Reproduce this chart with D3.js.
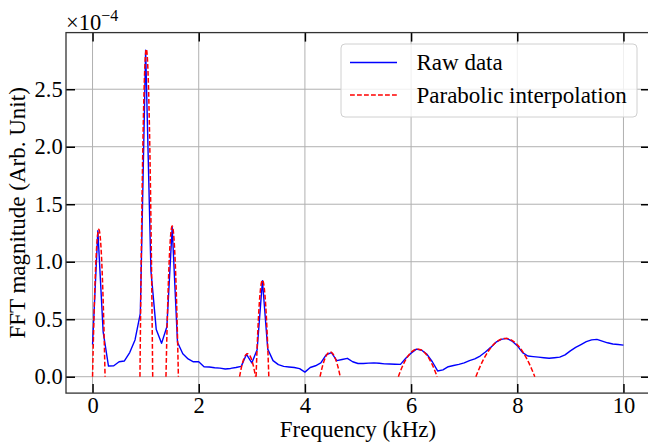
<!DOCTYPE html>
<html>
<head>
<meta charset="utf-8">
<script src="https://cdn.jsdelivr.net/npm/d3@7"></script>
<style>
  body { margin: 0; background: #fff; }
  svg { font-family: "Liberation Serif", "DejaVu Serif", serif; }
</style>
</head>
<body>
<script>
// raw FFT magnitude (x 1e-4), one value per 0.1 kHz bin from 0 to 10 kHz
var rawMag = [
  0.28, 1.27, 0.39, 0.093, 0.095, 0.13, 0.137, 0.21, 0.32, 0.55,
  2.84, 0.92, 0.41, 0.29, 0.435, 1.30, 0.30, 0.20, 0.155, 0.13,
  0.13, 0.087, 0.085, 0.078, 0.075, 0.067, 0.072, 0.08, 0.09, 0.195,
  0.12, 0.235, 0.835, 0.24, 0.14, 0.105, 0.09, 0.085, 0.08, 0.07,
  0.04, 0.08, 0.095, 0.12, 0.19, 0.21, 0.14, 0.15, 0.16, 0.13,
  0.115, 0.115, 0.118, 0.12, 0.117, 0.112, 0.11, 0.108, 0.107, 0.16,
  0.205, 0.24, 0.23, 0.195, 0.13, 0.05, 0.06, 0.087, 0.097, 0.107,
  0.12, 0.14, 0.155, 0.18, 0.215, 0.255, 0.30, 0.325, 0.333, 0.31,
  0.27, 0.21, 0.18, 0.175, 0.17, 0.165, 0.16, 0.165, 0.17, 0.19,
  0.225, 0.255, 0.28, 0.305, 0.32, 0.325, 0.31, 0.295, 0.285, 0.28,
  0.275
];
var rawFreq = d3.range(rawMag.length).map(function(i) { return i / 10; });

// fitted parabolas: vertex frequency (kHz), vertex height (x 1e-4), half width to the roots (kHz)
var peakFreq = [0.118, 1.013, 1.50, 2.92, 3.20, 4.475, 6.125, 7.775];
var peakMag = [1.28, 2.85, 1.31, 0.20, 0.84, 0.215, 0.24, 0.333];
var peakHalfWidth = [0.118, 0.12, 0.117, 0.15, 0.12, 0.19, 0.365, 0.555];

var xTicks = [0, 2, 4, 6, 8, 10];
var yTicks = [0, 0.5, 1.0, 1.5, 2.0, 2.5];

var width = 648;
var height = 442;
var plotLeft = 66, plotRight = 650, plotTop = 32.6, plotBottom = 393.1;
var tickFont = '22.5px';
var labelFont = '23px';

var x = d3.scaleLinear().domain([-0.5, 10.5]).range([plotLeft, plotRight]);
var y = d3.scaleLinear().domain([-0.1425, 2.9925]).range([plotBottom, plotTop]);

var svg = d3.select('body').append('svg')
    .attr('width', width)
    .attr('height', height);

// grid
svg.append('g').selectAll('line').data(xTicks).enter().append('line')
    .attr('x1', function(d) { return x(d); }).attr('x2', function(d) { return x(d); })
    .attr('y1', plotTop).attr('y2', plotBottom)
    .attr('stroke', '#b0b0b0').attr('stroke-width', 1);
svg.append('g').selectAll('line').data(yTicks).enter().append('line')
    .attr('y1', function(d) { return y(d); }).attr('y2', function(d) { return y(d); })
    .attr('x1', plotLeft).attr('x2', plotRight)
    .attr('stroke', '#b0b0b0').attr('stroke-width', 1);

// raw data
var line = d3.line()
    .x(function(d) { return x(d[0]); })
    .y(function(d) { return y(d[1]); });

svg.append('path')
    .datum(d3.zip(rawFreq, rawMag))
    .attr('d', line)
    .attr('fill', 'none')
    .attr('stroke', '#0000ff')
    .attr('stroke-width', 1.4)
    .attr('stroke-linejoin', 'round');

// parabolic interpolation
peakFreq.forEach(function(c, i) {
    var w = peakHalfWidth[i], h = peakMag[i];
    var pts = d3.range(0, 41).map(function(j) {
        var f = c - w + (2 * w) * j / 40;
        var u = (f - c) / w;
        return [f, Math.max(0, h * (1 - u * u))];
    });
    svg.append('path')
        .datum(pts)
        .attr('d', line)
        .attr('fill', 'none')
        .attr('stroke', '#ff0000')
        .attr('stroke-width', 1.5)
        .attr('stroke-dasharray', '4.8,2.2');
});

// axes, ticks pointing inward
function styleAxis(g) {
    g.select('.domain').remove();
    g.selectAll('.tick line').attr('stroke', '#000').attr('stroke-width', 1.5);
    g.selectAll('.tick text').attr('fill', '#000').style('font-size', tickFont)
        .style('font-family', '"Liberation Serif", serif');
}

svg.append('g')
    .attr('transform', 'translate(0,' + plotBottom + ')')
    .call(d3.axisBottom(x).tickValues(xTicks).tickFormat(d3.format('d')).tickSize(-9).tickPadding(4))
    .call(styleAxis);
svg.append('g')
    .attr('transform', 'translate(0,' + plotTop + ')')
    .call(d3.axisTop(x).tickValues(xTicks).tickFormat('').tickSize(-9))
    .call(styleAxis);
svg.append('g')
    .attr('transform', 'translate(' + plotLeft + ',0)')
    .call(d3.axisLeft(y).tickValues(yTicks).tickFormat(d3.format('.1f')).tickSize(-9).tickPadding(3.3))
    .call(styleAxis);
svg.append('g')
    .attr('transform', 'translate(' + plotRight + ',0)')
    .call(d3.axisRight(y).tickValues(yTicks).tickFormat('').tickSize(-9))
    .call(styleAxis);

// spines
svg.append('rect')
    .attr('x', plotLeft).attr('y', plotTop)
    .attr('width', plotRight - plotLeft).attr('height', plotBottom - plotTop)
    .attr('fill', 'none')
    .attr('stroke', '#333')
    .attr('stroke-width', 1.3);

// offset text
var off = svg.append('text')
    .attr('x', 66).attr('y', 30)
    .style('font-size', '22.5px');
off.append('tspan').text('×10');
off.append('tspan').attr('dy', -9).style('font-size', '16px').text('−4');

// axis labels
svg.append('text')
    .attr('x', 358)
    .attr('y', 437)
    .attr('text-anchor', 'middle')
    .style('font-size', labelFont)
    .text('Frequency (kHz)');

svg.append('text')
    .attr('transform', 'translate(25,' + ((plotTop + plotBottom) / 2) + ') rotate(-90)')
    .attr('text-anchor', 'middle')
    .style('font-size', labelFont)
    .text('FFT magnitude (Arb. Unit)');

// legend
var legend = svg.append('g');
legend.append('rect')
    .attr('x', 341).attr('y', 44)
    .attr('width', 296).attr('height', 73)
    .attr('rx', 4).attr('ry', 4)
    .attr('fill', '#fff').attr('fill-opacity', 0.8)
    .attr('stroke', '#d0d0d0').attr('stroke-width', 1);

var legendItems = [
    { label: 'Raw data', color: '#0000ff', dash: null, y: 62.5 },
    { label: 'Parabolic interpolation', color: '#ff0000', dash: '4.8,2.2', y: 95 }
];
legendItems.forEach(function(d) {
    legend.append('line')
        .attr('x1', 350).attr('x2', 397)
        .attr('y1', d.y).attr('y2', d.y)
        .attr('stroke', d.color).attr('stroke-width', 1.5)
        .attr('stroke-dasharray', d.dash);
    legend.append('text')
        .attr('x', 416.5).attr('y', d.y + 7.5)
        .style('font-size', labelFont)
        .text(d.label);
});
</script>
</body>
</html>
